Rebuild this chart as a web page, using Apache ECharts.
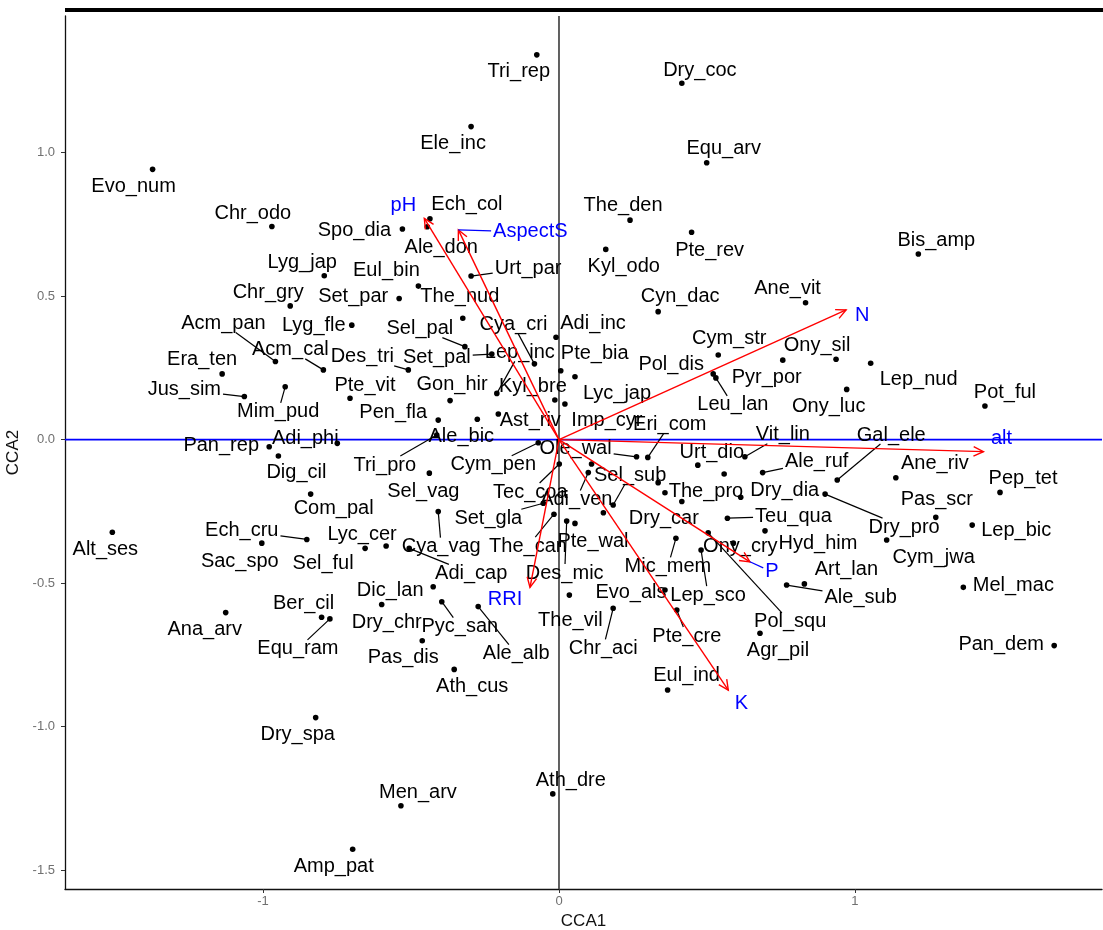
<!DOCTYPE html>
<html><head><meta charset="utf-8">
<script src="https://cdn.jsdelivr.net/npm/echarts@6/dist/echarts.min.js"></script>
<style>html,body{margin:0;padding:0;background:#fff}#c{width:1103px;height:930px}</style>
</head><body><div id="c"></div>
<script>
// ---------- data ----------
const species = ['Evo_num','Chr_odo','Lyg_jap','Chr_gry','Set_par','Eul_bin','The_nud','Spo_dia','Ech_col','Ale_don',
'Tri_rep','Ele_inc','Dry_coc','Equ_arv','Urt_par','The_den','Pte_rev','Kyl_odo','Cyn_dac','Bis_amp',
'Ane_vit','Ony_sil','Cym_str','Pyr_por','Pol_dis','Leu_lan','Lep_nud','Ony_luc','Pot_ful','Vit_lin',
'Gal_ele','Ale_ruf','Ane_riv','Pep_tet','Dry_dia','Dry_pro','Pas_scr','Lep_bic','Teu_qua','Hyd_him',
'Cym_jwa','Mel_mac','Art_lan','Ale_sub','Pol_squ','Agr_pil','Pan_dem','Acm_pan','Lyg_fle','Acm_cal',
'Des_tri','Era_ten','Jus_sim','Mim_pud','Pte_vit','Pen_fla','Pan_rep','Adi_phi','Dig_cil','Com_pal',
'Alt_ses','Ech_cru','Sac_spo','Sel_ful','Lyc_cer','Ber_cil','Equ_ram','Ana_arv','Dry_spa','Amp_pat',
'Men_arv','Ath_dre','Ath_cus','Pas_dis','Pyc_san','Ale_alb','Dry_chr','Dic_lan','Adi_cap','Cya_vag',
'Sel_vag','Tri_pro','Ale_bic','Gon_hir','Sel_pal','Set_pal','Cya_cri','Lep_inc','Kyl_bre','Ast_riv',
'Imp_cyr','Adi_inc','Pte_bia','Lyc_jap','Eri_com','Ole_wal','Cym_pen','Tec_coa','Sel_sub','Adi_ven',
'Set_gla','The_can','Pte_wal','Des_mic','The_vil','Evo_als','Chr_aci','Lep_sco','Pte_cre','Eul_ind',
'Mic_mem','Ony_cry','Dry_car','The_pro','Urt_dio','','','',''];
const cca1 = [-1.373,-0.970,-0.793,-0.908,-0.540,-0.475,-0.325,-0.529,-0.436,-0.445,
-0.075,-0.297,0.415,0.499,-0.297,0.240,0.448,0.158,0.335,1.214,
0.833,0.936,0.538,0.756,0.521,0.530,1.053,0.972,1.439,0.628,
0.940,0.688,1.138,1.490,0.614,0.899,1.273,1.396,0.569,0.696,
1.107,1.366,0.829,0.769,0.504,0.679,1.673,-0.958,-0.700,-0.796,
-0.509,-1.138,-1.063,-0.925,-0.706,-0.408,-0.979,-0.749,-0.948,-0.839,
-1.509,-0.852,-1.004,-0.655,-0.584,-0.802,-0.774,-1.126,-0.822,-0.697,
-0.534,-0.021,-0.354,-0.462,-0.396,-0.273,-0.599,-0.425,-0.506,-0.408,
-0.438,-0.413,-0.276,-0.368,-0.318,-0.227,-0.083,-0.210,-0.014,-0.205,
0.020,-0.010,0.006,0.054,0.300,0.262,-0.070,0.001,0.183,0.099,
-0.053,-0.017,0.054,0.026,0.035,0.358,0.183,0.480,0.398,0.367,
0.395,0.589,0.415,0.358,0.469,0.110,0.150,0.335,0.558];
const cca2 = [0.942,0.743,0.571,0.466,0.492,0.535,0.423,0.734,0.770,0.742,
1.341,1.091,1.242,0.965,0.570,0.765,0.723,0.663,0.446,0.647,
0.477,0.280,0.295,0.277,0.229,0.215,0.266,0.175,0.117,-0.060,
-0.141,-0.115,-0.133,-0.184,-0.201,-0.190,-0.271,-0.298,-0.274,-0.318,
-0.350,-0.515,-0.503,-0.507,-0.325,-0.675,-0.718,0.272,0.399,0.243,
0.243,0.229,0.150,0.184,0.144,0.068,-0.025,-0.013,-0.057,-0.190,
-0.323,-0.348,-0.361,-0.379,-0.371,-0.619,-0.625,-0.603,-0.969,-1.428,
-1.276,-1.235,-0.801,-0.701,-0.565,-0.582,-0.575,-0.513,-0.379,-0.251,
-0.117,0.016,0.071,0.136,0.324,0.298,0.264,0.161,0.138,0.089,
0.124,0.357,0.240,0.219,-0.062,-0.060,-0.011,-0.085,-0.228,-0.115,
-0.222,-0.260,-0.292,-0.284,-0.542,-0.524,-0.588,-0.385,-0.594,-0.873,
-0.344,-0.361,-0.216,-0.185,-0.089,-0.085,-0.255,-0.150,-0.120];

const envNames = ['pH','AspectS','N','alt','P','K','RRI'];
const envCCA1 = [-0.455,-0.340,0.970,1.434,0.645,0.572,-0.098];
const envCCA2 = [0.771,0.731,0.452,-0.042,-0.426,-0.873,-0.515];

const xTicks = [-1,0,1];
const yTicks = [-1.5,-1,-0.5,0,0.5,1];

// ---------- layout (label offsets in px from the point, leader flags) ----------
const labelDx = [-19,-19,-22,-22,-46,-32,-3,-48,37,14,
-18,-18,18,17,57,-7,18,18,22,18,
-18,-19,11,-16,-42,17,48,-18,20,38,
54,54,39,23,44,79,1,44,66,53,
47,50,42,74,82,18,-53,-52,-38,-33,
-46,-20,-60,-7,15,-45,-48,-32,18,23,
-7,-65,-22,-42,-24,-18,-32,-21,-18,-19,
17,18,18,-19,18,38,5,-43,62,3,
-6,-52,-16,2,-45,-55,-21,23,-22,32,
42,37,34,42,22,-61,-45,-29,17,-12,
-55,-26,18,-2,1,-34,-10,7,10,19,
-8,7,-18,41,14,0,0,0,0];
const labelDy = [17,-13,-13,-13,-2,-16,-22,1,-14,21,
17,17,-13,-14,-8,-15,18,17,-15,-13,
-14,-14,-16,17,-9,27,16,17,-14,-22,
-45,-11,-14,-14,-7,33,-18,5,-2,13,
17,-2,-14,12,89,17,-1,-38,0,-20,
-13,-14,-7,25,-13,-8,-1,-5,17,14,
17,-9,18,15,-12,-14,30,17,17,17,
-13,-13,17,17,25,47,18,4,25,35,
18,30,17,-16,-18,3,-39,-41,-14,6,
16,-14,-17,17,-33,-8,22,28,-30,27,
15,32,18,52,25,3,40,45,26,-15,
28,3,17,-1,-13,0,0,0,0];
const leaderOn = [0,0,0,0,0,0,0,0,0,0,
0,0,0,0,1,0,0,0,0,0,
0,0,0,0,0,1,0,0,0,1,
1,1,0,0,0,1,0,0,1,0,
0,0,0,1,1,0,0,1,0,1,
1,0,1,1,0,0,0,0,0,0,
0,1,0,0,0,0,1,0,0,0,
0,0,0,0,1,1,0,0,1,1,
0,1,0,0,1,1,1,1,0,0,
0,0,0,0,1,1,1,1,1,1,
1,1,0,1,0,0,1,1,1,0,
1,0,0,0,0,0,0,0,0];
const envDx = [-21,72,16,18,22,13,-25];
const envDy = [-13,2,6,-13,10,13,12];
const envLeader = [0,1,0,0,1,0,0];

// ---------- helpers ----------
const LABEL_FONT = '20px "Liberation Sans", Arial, sans-serif';
const mctx = document.createElement('canvas').getContext('2d');
mctx.font = LABEL_FONT;
function textW(s){ return mctx.measureText(s).width; }
function boxEdge(px, py, cx, cy, w, h){
  const dx = px - cx, dy = py - cy;
  const hw = w/2 + 2, hh = h/2;
  if (Math.abs(dx) <= hw && Math.abs(dy) <= hh) return null;
  const t = Math.min(dx !== 0 ? hw/Math.abs(dx) : Infinity, dy !== 0 ? hh/Math.abs(dy) : Infinity);
  return [cx + dx*t, cy + dy*t];
}
function textEl(x, y, s, color){
  return {type:'text', x:x, y:y, z2:5, style:{text:s, font:LABEL_FONT, fill:color,
    textAlign:'center', textVerticalAlign:'middle', align:'center', verticalAlign:'middle'}};
}

function renderRef(params, api){
  const cs = params.coordSys;
  const o = api.coord([0,0]);
  return {type:'group', children:[
    {type:'line', shape:{x1:cs.x, y1:o[1], x2:cs.x+cs.width, y2:o[1]}, style:{stroke:'#0000FF', lineWidth:1.6}},
    {type:'line', shape:{x1:o[0], y1:cs.y, x2:o[0], y2:cs.y+cs.height}, style:{stroke:'#3a3a3a', lineWidth:1.6}}
  ]};
}

function renderSpecies(params, api){
  const i = api.value(2);
  const p = api.coord([api.value(0), api.value(1)]);
  const ch = [{type:'circle', shape:{cx:p[0], cy:p[1], r:2.8}, style:{fill:'#000'}}];
  const name = species[i];
  if (name){
    const cx = p[0] + labelDx[i], cy = p[1] + labelDy[i];
    if (leaderOn[i]){
      const e = boxEdge(p[0], p[1], cx, cy, textW(name), 18);
      if (e) ch.push({type:'line', shape:{x1:p[0], y1:p[1], x2:e[0], y2:e[1]}, style:{stroke:'#000', lineWidth:1.2}});
    }
    ch.push(textEl(cx, cy, name, '#000'));
  }
  return {type:'group', children:ch};
}

function renderArrow(params, api){
  const i = api.value(2);
  const o = api.coord([0,0]);
  const t = api.coord([api.value(0), api.value(1)]);
  const ang = Math.atan2(t[1]-o[1], t[0]-o[0]);
  const h = 11, a = 0.45;
  const p1 = [t[0]-h*Math.cos(ang-a), t[1]-h*Math.sin(ang-a)];
  const p2 = [t[0]-h*Math.cos(ang+a), t[1]-h*Math.sin(ang+a)];
  const ch = [
    {type:'line', shape:{x1:o[0], y1:o[1], x2:t[0], y2:t[1]}, style:{stroke:'#FF0000', lineWidth:1.4}},
    {type:'polyline', shape:{points:[p1, t, p2]}, style:{stroke:'#FF0000', lineWidth:1.4, fill:null}}
  ];
  const name = envNames[i];
  const cx = t[0] + envDx[i], cy = t[1] + envDy[i];
  if (envLeader[i]){
    const e = boxEdge(t[0], t[1], cx, cy, textW(name), 18);
    if (e) ch.push({type:'line', shape:{x1:t[0], y1:t[1], x2:e[0], y2:e[1]}, style:{stroke:'#0000FF', lineWidth:1.2}});
  }
  ch.push(textEl(cx, cy, name, '#0000FF'));
  return {type:'group', children:ch};
}

const spData = species.map((s, i) => [cca1[i], cca2[i], i]);
const envData = envNames.map((s, i) => [envCCA1[i], envCCA2[i], i]);

const chart = echarts.init(document.getElementById('c'), null, {renderer:'canvas'});
chart.setOption({
  animation:false,
  backgroundColor:'#fff',
  grid:{left:65, right:1, top:16, bottom:41, containLabel:false, outerBoundsMode:'none'},
  xAxis:{type:'value', min:-1.6689, max:1.8345, name:'CCA1', nameLocation:'middle', nameGap:23,
    nameTextStyle:{fontSize:17, color:'#111', fontFamily:'Liberation Sans'},
    axisLine:{show:true, onZero:false, lineStyle:{color:'#111', width:1.3}},
    axisTick:{show:true, customValues:xTicks, length:4, lineStyle:{color:'#333'}},
    axisLabel:{customValues:xTicks, formatter:v => String(v), color:'#707070', fontSize:13, margin:6, fontFamily:'Liberation Sans'},
    splitLine:{show:false}},
  yAxis:{type:'value', min:-1.5664, max:1.4765, name:'CCA2', nameLocation:'middle', nameGap:38, nameRotate:90,
    nameTextStyle:{fontSize:17, color:'#111', fontFamily:'Liberation Sans'},
    axisLine:{show:true, onZero:false, lineStyle:{color:'#111', width:1.3}},
    axisTick:{show:true, customValues:yTicks, length:4, lineStyle:{color:'#333'}},
    axisLabel:{customValues:yTicks, formatter:v => v.toFixed(1), color:'#707070', fontSize:13, margin:10, fontFamily:'Liberation Sans'},
    splitLine:{show:false}},
  graphic:[{type:'rect', shape:{x:65, y:8, width:1038, height:4}, style:{fill:'#000'}}],
  series:[
    {type:'custom', z:1, silent:true, renderItem:renderRef, data:[[0,0]]},
    {type:'custom', z:3, silent:true, renderItem:renderSpecies, data:spData},
    {type:'custom', z:4, silent:true, renderItem:renderArrow, data:envData}
  ]
});
</script></body></html>
